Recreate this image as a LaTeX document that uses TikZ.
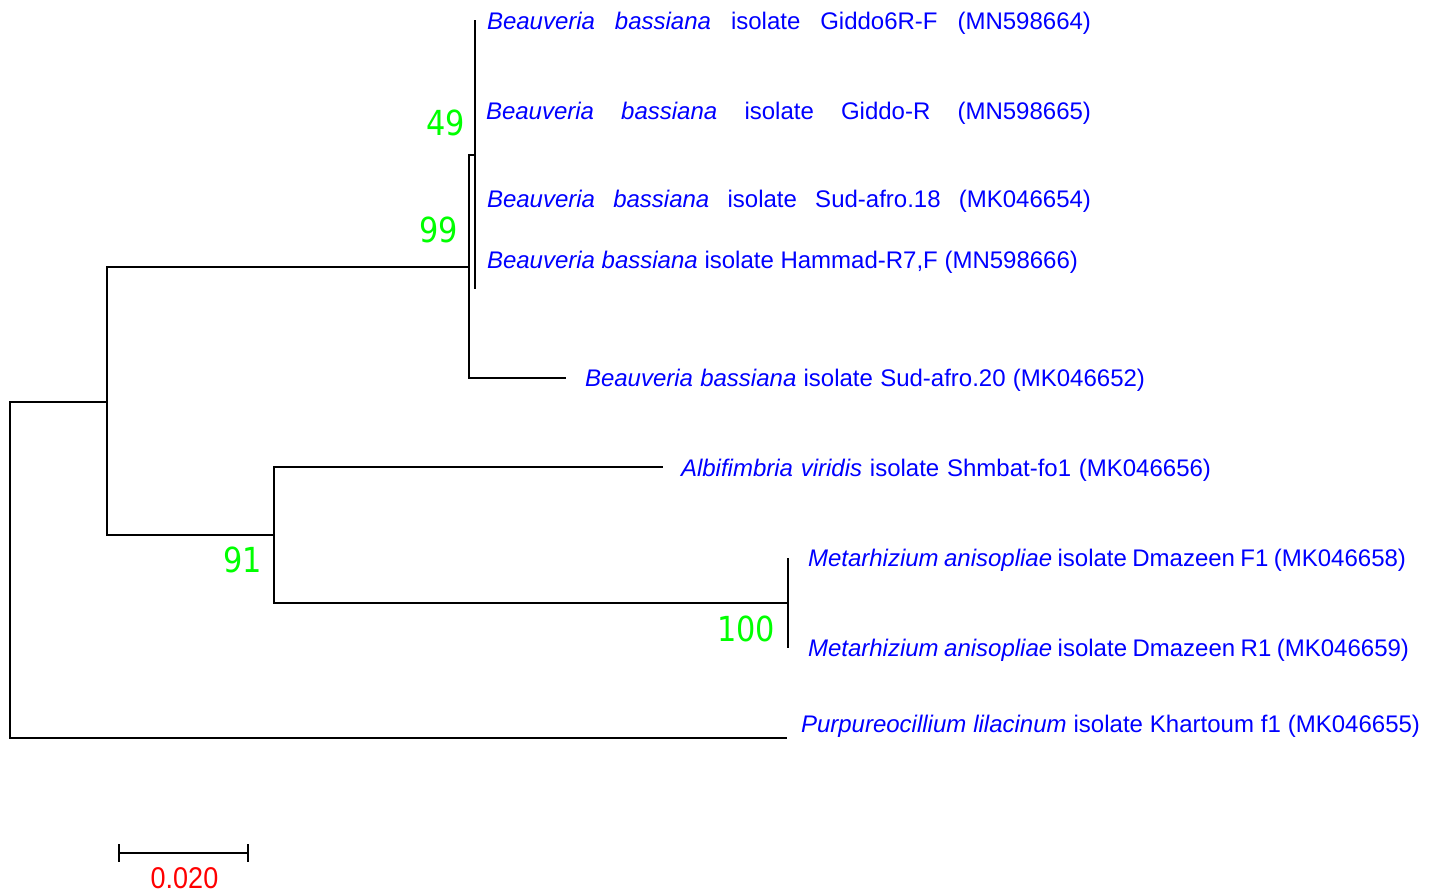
\documentclass[tikz,border=0pt]{standalone}
\usepackage{fontspec}
\setmainfont{Liberation Sans}
\newfontfamily\labfont{Liberation Sans}
\newfontfamily\bsfont[FakeStretch=0.88]{DejaVu Sans}
\newfontfamily\scfont[FakeStretch=0.9]{Liberation Sans}
\definecolor{taxblue}{RGB}{0,0,255}
\definecolor{bootgreen}{RGB}{0,255,0}
\definecolor{scalered}{RGB}{255,0,0}
\tikzset{
  br/.style={line width=2pt, black},
  taxon/.style={anchor=base west, inner sep=0pt, outer sep=0pt, text=taxblue, font=\labfont\fontsize{24}{26}\selectfont},
  boot/.style={anchor=base east, inner sep=0pt, outer sep=0pt, text=bootgreen, font=\bsfont\fontsize{34.5}{36}\selectfont},
  sclabel/.style={anchor=base, inner sep=0pt, outer sep=0pt, text=scalered, font=\scfont\fontsize{30}{32}\selectfont}
}
\begin{document}
\begin{tikzpicture}[x=1pt,y=-1pt]
\useasboundingbox (0,0) rectangle (1437,894);
% internal nodes
\coordinate (root) at (10,569.5);
\coordinate (nA) at (107,401.5);
\coordinate (nB) at (469,266.5);
\coordinate (nC) at (475,154.5);
\coordinate (nD) at (274,535);
\coordinate (nE) at (788,603);
% leaves
\coordinate (l1) at (475,20);
\coordinate (l2) at (475,110);
\coordinate (l3) at (475,198);
\coordinate (l4) at (475,259);
\coordinate (l4b) at (475,289);
\coordinate (l5) at (566,378);
\coordinate (l6) at (663,467);
\coordinate (l7) at (788,558);
\coordinate (l8) at (788,648);
\coordinate (l9) at (787,738);
% branches
\draw[br] (root) |- (nA);
\draw[br] (root) |- (l9);
\draw[br] (nA) |- (nB);
\draw[br] (nA) |- (nD);
\draw[br] (nB) |- (nC);
\draw[br] (nB) |- (l5);
\draw[br] (nC) |- (l1);
\draw[br] (nC) |- (l4b);
\draw[br] (nD) |- (l6);
\draw[br] (nD) |- (nE);
\draw[br] (nE) |- (l7);
\draw[br] (nE) |- (l8);
% taxa
\node[taxon] (t1) at (487,29) {\makebox[604pt][s]{\textit{Beauveria bassiana} isolate Giddo6R-F (MN598664)}};
\node[taxon] (t2) at (486,119) {\makebox[605pt][s]{\textit{Beauveria bassiana} isolate Giddo-R (MN598665)}};
\node[taxon] (t3) at (487,207) {\makebox[604pt][s]{\textit{Beauveria bassiana} isolate Sud-afro.18 (MK046654)}};
\node[taxon] (t4) at (487,268) {\makebox[591pt][s]{\textit{Beauveria bassiana} isolate Hammad-R7,F (MN598666)}};
\node[taxon] (t5) at (585,386) {\makebox[560pt][s]{\textit{Beauveria bassiana} isolate Sud-afro.20 (MK046652)}};
\node[taxon] (t6) at (681,476) {\makebox[530pt][s]{\textit{Albifimbria viridis} isolate Shmbat-fo1 (MK046656)}};
\node[taxon] (t7) at (808,566) {\makebox[598pt][s]{\textit{Metarhizium anisopliae} isolate Dmazeen F1 (MK046658)}};
\node[taxon] (t8) at (808,656) {\makebox[601pt][s]{\textit{Metarhizium anisopliae} isolate Dmazeen R1 (MK046659)}};
\node[taxon] (t9) at (801,732) {\makebox[619pt][s]{\textit{Purpureocillium lilacinum} isolate Khartoum f1 (MK046655)}};
% bootstrap values
\node[boot] (b49) at (465,135) {49};
\node[boot] (b99) at (458,242) {99};
\node[boot] (b91) at (262,572) {91};
\node[boot] (b100) at (775,641) {100};
% scale bar
\coordinate (s1) at (119,853);
\coordinate (s2) at (248,853);
\coordinate (s1t) at (119,844);
\coordinate (s1b) at (119,862);
\coordinate (s2t) at (248,844);
\coordinate (s2b) at (248,862);
\draw[br] (s1) -- (s2);
\draw[br] (s1t) -- (s1b);
\draw[br] (s2t) -- (s2b);
\node[sclabel] (sl) at (184.5,888) {0.020};
\end{tikzpicture}
\end{document}
